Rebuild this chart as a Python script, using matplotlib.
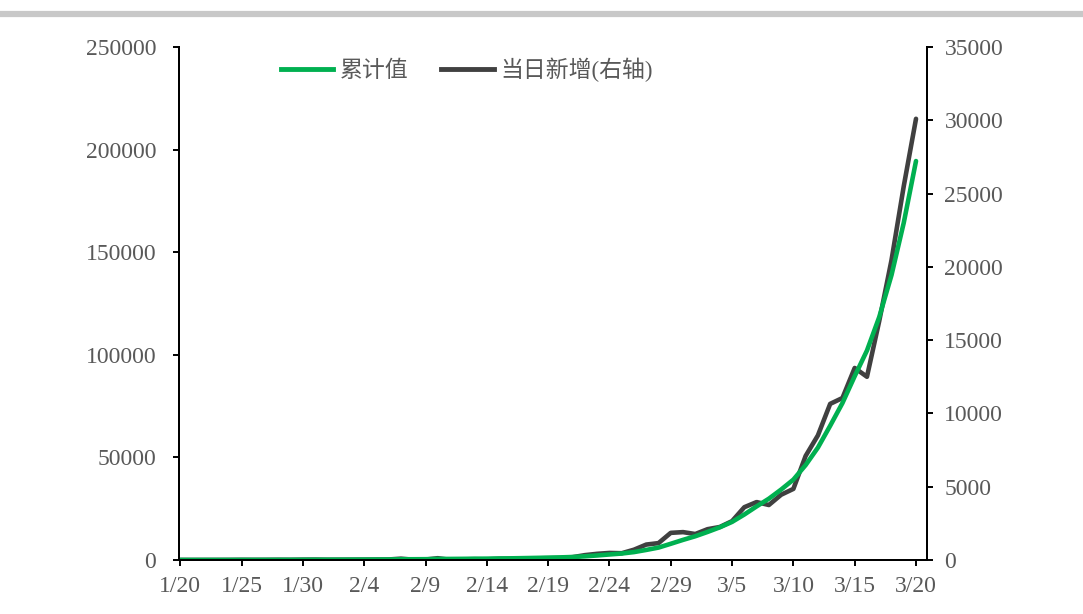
import numpy as np
import matplotlib.pyplot as plt
from matplotlib.lines import Line2D

plt.rcParams['font.family'] = ['Liberation Serif', 'Noto Sans CJK SC', 'DejaVu Sans']

# dates 1/20 .. 3/20 (2020)
dates = ['1/20', '1/21', '1/22', '1/23', '1/24', '1/25', '1/26', '1/27', '1/28', '1/29',
         '1/30', '1/31', '2/1', '2/2', '2/3', '2/4', '2/5', '2/6', '2/7', '2/8',
         '2/9', '2/10', '2/11', '2/12', '2/13', '2/14', '2/15', '2/16', '2/17', '2/18',
         '2/19', '2/20', '2/21', '2/22', '2/23', '2/24', '2/25', '2/26', '2/27', '2/28',
         '2/29', '3/1', '3/2', '3/3', '3/4', '3/5', '3/6', '3/7', '3/8', '3/9',
         '3/10', '3/11', '3/12', '3/13', '3/14', '3/15', '3/16', '3/17', '3/18', '3/19',
         '3/20']

# 累计值 (left axis)
cumulative = [3, 4, 6, 9, 14, 25, 33, 42, 56, 67,
              87, 111, 125, 141, 160, 182, 210, 244, 334, 352,
              380, 500, 510, 550, 605, 645, 725, 800, 899, 1009,
              1129, 1259, 1449, 1779, 2199, 2679, 3139, 3839, 4889, 6039,
              7889, 9789, 11559, 13659, 15909, 18559, 22159, 26109, 29859, 34309,
              39159, 46259, 54759, 65409, 76459, 89559, 102059, 118359, 138809, 164309,
              194409]

# 当日新增 (right axis)
daily_new = [3, 1, 2, 3, 5, 11, 8, 9, 14, 11,
             20, 24, 14, 16, 19, 22, 28, 34, 90, 18,
             28, 120, 10, 40, 55, 40, 80, 75, 99, 110,
             120, 130, 190, 330, 420, 480, 460, 700, 1050, 1150,
             1850, 1900, 1770, 2100, 2250, 2650, 3600, 3950, 3750, 4450,
             4850, 7100, 8500, 10650, 11050, 13100, 12500, 16300, 20450, 25500,
             30100]

green = '#00B050'
dark = '#404040'
grey_txt = '#595959'

fig = plt.figure(figsize=(10.83, 6.14), dpi=100)
ax = fig.add_axes([0.1653, 0.088, 0.6907, 0.8355])
ax2 = ax.twinx()

x = np.arange(len(dates))
ax.plot(x, cumulative, color=green, lw=3.3, solid_capstyle='round', solid_joinstyle='round', zorder=2)
ax2.plot(x, daily_new, color=dark, lw=3.3, solid_capstyle='round', solid_joinstyle='round', zorder=3)

ax.set_xlim(-0.1, 60.9)
ax.set_ylim(0, 250000)
ax2.set_ylim(0, 35000)
ax.set_yticks(np.arange(0, 250001, 50000))
ax2.set_yticks(np.arange(0, 35001, 5000))
ax.set_xticks(x[::5])
ax.set_xticklabels(dates[::5])

for a in (ax, ax2):
    a.spines['top'].set_visible(False)
    for s in a.spines.values():
        s.set_linewidth(1.4)
        s.set_color('black')
    a.tick_params(axis='both', labelsize=17, labelcolor=grey_txt, length=4.5, width=1.4,
                  direction='out')
ax.tick_params(axis='y', pad=12)
ax2.tick_params(axis='y', pad=8)
ax.tick_params(axis='x', pad=7)
ax.set_zorder(ax2.get_zorder() + 1)
ax.patch.set_visible(False)

handles = [Line2D([], [], color=green, lw=3.5),
           Line2D([], [], color=dark, lw=3.5)]
leg = fig.legend(handles, ['累计值', '当日新增(右轴)'], loc='center left',
                 bbox_to_anchor=(0.2485, 0.886), borderpad=0,
                 ncol=2, frameon=False, handlelength=2.3, handletextpad=0.3, columnspacing=1.4,
                 prop={'family': ['Liberation Serif', 'Noto Sans CJK SC'], 'size': 16.5,
                       'weight': 'light'})
for t in leg.get_texts():
    t.set_color(grey_txt)

# grey band at top
fig.add_artist(Line2D([0, 1], [0.978, 0.978], transform=fig.transFigure, color='#c8c8c8', lw=4.5))

fig.savefig('out.png', dpi=100)
